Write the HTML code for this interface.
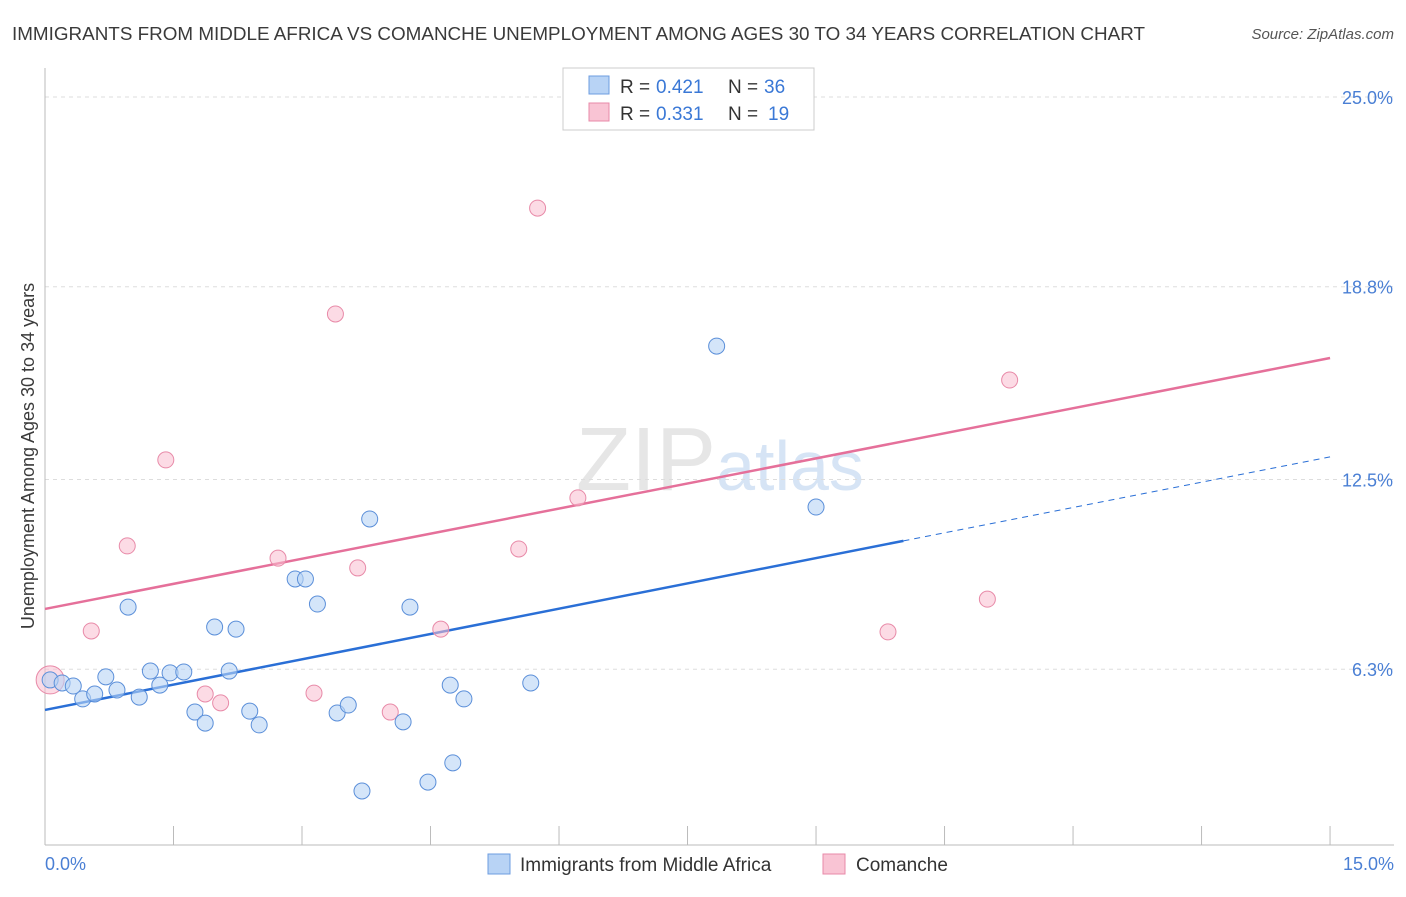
<!DOCTYPE html>
<html><head><meta charset="utf-8"><style>
body{margin:0;background:#fff;font-family:"Liberation Sans",sans-serif;}
svg text{font-family:"Liberation Sans",sans-serif;}
</style></head><body>
<svg width="1406" height="892">
<text x="12" y="40" font-size="18" fill="#3a3a3a" textLength="1133" lengthAdjust="spacingAndGlyphs">IMMIGRANTS FROM MIDDLE AFRICA VS COMANCHE UNEMPLOYMENT AMONG AGES 30 TO 34 YEARS CORRELATION CHART</text>
<text x="1394" y="39" font-size="15" fill="#555" text-anchor="end" font-style="italic">Source: ZipAtlas.com</text>
<text x="720" y="490" font-size="90" fill="#e6e6e6" text-anchor="middle" font-family="Liberation Serif">ZIP<tspan fill="#d6e4f5" font-family="Liberation Sans" font-size="70">atlas</tspan></text>
<g id="grid"></g>
<line x1="45" y1="845" x2="1394" y2="845" stroke="#bbb"/>
<line x1="45" y1="68" x2="45" y2="845" stroke="#bbb"/>
<g id="xticks"></g>
<text x="45" y="870" font-size="18" fill="#4a7fd4">0.0%</text>
<text x="1394" y="870" font-size="18" fill="#4a7fd4" text-anchor="end">15.0%</text>
<text transform="translate(34,456) rotate(-90)" font-size="18" fill="#3a3a3a" text-anchor="middle">Unemployment Among Ages 30 to 34 years</text>
<g id="lines"></g>
<g id="points"></g>
<g>
<rect x="563" y="68" width="251" height="62" fill="#fff" stroke="#ccc"/>
<rect x="589" y="76" width="20" height="18" fill="#b8d3f5" stroke="#6d9de0"/>
<text x="620" y="93" font-size="19" fill="#333">R =</text>
<text x="656" y="93" font-size="19" fill="#3a78d6">0.421</text>
<text x="728" y="93" font-size="19" fill="#333">N =</text>
<text x="764" y="93" font-size="19" fill="#3a78d6">36</text>
<rect x="589" y="103" width="20" height="18" fill="#f9c4d4" stroke="#e88aa8"/>
<text x="620" y="120" font-size="19" fill="#333">R =</text>
<text x="656" y="120" font-size="19" fill="#3a78d6">0.331</text>
<text x="728" y="120" font-size="19" fill="#333">N =</text>
<text x="768" y="120" font-size="19" fill="#3a78d6">19</text>
</g>
<rect x="488" y="854" width="22" height="20" fill="#b8d3f5" stroke="#6d9de0"/>
<text x="520" y="871" font-size="19" fill="#333">Immigrants from Middle Africa</text>
<rect x="823" y="854" width="22" height="20" fill="#f9c4d4" stroke="#e88aa8"/>
<text x="856" y="871" font-size="19" fill="#333">Comanche</text>
</svg>
<script>
const yTicks=[25.0,18.8,12.5,6.3];
const yTickLabels=["25.0%","18.8%","12.5%","6.3%"];
const blueX=[0.06,0.20,0.33,0.44,0.58,0.71,0.84,0.97,1.10,1.23,1.34,1.46,1.62,1.75,1.87,1.98,2.15,2.23,2.39,2.50,2.92,3.04,3.18,3.41,3.54,3.70,3.79,4.18,4.26,4.47,4.73,4.76,4.89,5.67,7.84,9.00];
const blueY=[5.95,5.85,5.75,5.33,5.49,6.05,5.62,8.33,5.39,6.24,5.78,6.18,6.21,4.90,4.54,7.68,6.24,7.61,4.93,4.48,9.25,9.25,8.43,4.87,5.13,2.32,11.21,4.58,8.33,2.61,5.78,3.24,5.33,5.85,16.86,11.60];
const pinkX=[0.06,0.54,0.96,1.41,1.87,2.05,2.72,3.14,3.39,3.65,4.03,4.62,5.53,5.75,6.22,9.84,11.00,11.26];
const pinkY=[5.95,7.55,10.33,13.14,5.49,5.20,9.93,5.52,17.91,9.61,4.90,7.61,10.23,21.37,11.90,7.52,8.59,15.75];
const blueTrend=[4.97,13.24];
const blueSolidEnd=10.02;
const pinkTrend=[8.27,16.47];
const NS="http://www.w3.org/2000/svg";
const sx=v=>45+v*85.67;
const sy=v=>97+(25-v)*30.6;
function mk(tag,attrs,parent){const e=document.createElementNS(NS,tag);for(const k in attrs)e.setAttribute(k,attrs[k]);document.getElementById(parent).appendChild(e);return e;}
yTicks.forEach((t,i)=>{
 const l=mk('line',{x1:45,x2:1394,y1:sy(t),y2:sy(t),stroke:'#ddd','stroke-dasharray':'4,4'},'grid');
 
 
 const tx=mk('text',{x:1393,y:sy(t)+7,'font-size':18,fill:'#4a7fd4','text-anchor':'end'},'grid');
 tx.textContent=yTickLabels[i];
 
 
});
for(let i=1;i<=10;i++){
 const x=sx(i*1.5);
 const l=mk('line',{x1:x,x2:x,y1:826,y2:845,stroke:'#bbb'},'xticks');
 
 
}
const bl=mk('line',{x1:sx(0),y1:sy(blueTrend[0]),x2:sx(blueSolidEnd),y2:sy(blueTrend[0]+(blueTrend[1]-blueTrend[0])*blueSolidEnd/15),stroke:'#2a6fd6','stroke-width':2.5},'lines');


const bd=mk('line',{x1:sx(blueSolidEnd),y1:sy(blueTrend[0]+(blueTrend[1]-blueTrend[0])*blueSolidEnd/15),x2:sx(15),y2:sy(blueTrend[1]),stroke:'#2a6fd6','stroke-width':1,'stroke-dasharray':'6,5'},'lines');


const pl=mk('line',{x1:sx(0),y1:sy(pinkTrend[0]),x2:sx(15),y2:sy(pinkTrend[1]),stroke:'#e5709a','stroke-width':2.5},'lines');


pinkX.forEach((x,i)=>{
 const c=mk('circle',{cx:sx(x),cy:sy(pinkY[i]),r:i===0?14:8,fill:'rgba(249,190,208,0.55)',stroke:'#e88aa8','stroke-width':1},'points');
 
 
});
blueX.forEach((x,i)=>{
 const c=mk('circle',{cx:sx(x),cy:sy(blueY[i]),r:8,fill:'rgba(184,211,245,0.6)',stroke:'#5b8fd9','stroke-width':1},'points');
 
 
});
</script>
</body></html>
